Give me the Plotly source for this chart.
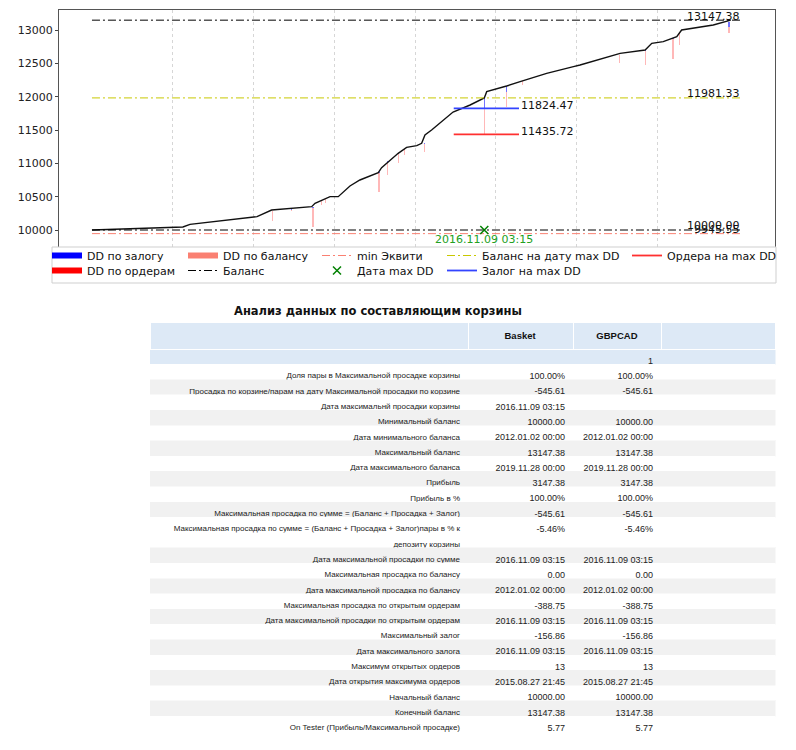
import plotly.graph_objects as go

# ---------------- chart data ----------------
bal_dates = ["2012-01-02", "2012-09-20", "2013-02-16", "2013-03-20", "2013-08-03", "2014-01-17",
             "2014-03-24", "2014-06-15", "2014-09-21", "2014-10-06", "2014-11-12", "2014-12-13",
             "2015-01-19", "2015-02-19", "2015-03-13", "2015-04-27", "2015-07-19", "2015-08-03",
             "2015-09-10", "2015-10-17", "2015-11-24", "2016-01-09", "2016-01-31", "2016-02-15",
             "2016-03-16", "2016-06-21", "2016-09-06", "2016-11-09 03:15", "2016-11-20", "2017-01-19",
             "2017-02-18", "2017-04-20", "2017-08-18", "2017-12-17", "2018-01-16", "2018-07-16",
             "2018-11-06", "2018-12-06", "2019-01-27", "2019-03-29", "2019-04-20", "2019-09-10",
             "2019-11-28"]
bal_values = [10000, 10022, 10045, 10085, 10135, 10200,
              10300, 10325, 10350, 10400, 10450, 10500,
              10500, 10600, 10660, 10750, 10860, 10935,
              11050, 11150, 11240, 11265, 11300, 11425,
              11500, 11770, 11875, 11981.33, 12075, 12125,
              12160, 12225, 12350, 12450, 12475, 12650,
              12700, 12800, 12825, 12900, 13000, 13075,
              13147.38]

dd_dates = ["2014-03-26", "2014-06-20", "2014-09-27", "2014-11-05", "2014-11-23", "2015-07-22",
            "2015-08-31", "2015-10-20", "2015-11-16", "2016-02-12", "2016-11-09 03:15", "2017-02-16",
            "2017-04-30", "2018-07-12", "2018-11-06", "2019-03-12", "2019-04-10", "2019-11-20"]
dd_top = [10290, 10325, 10350, 10440, 10470, 10870,
          11030, 11150, 11220, 11300, 11981.33, 12160,
          12240, 12630, 12695, 12880, 12960, 13120]
dd_zalog = [10, 30, 15, 10, 10, 20, 10, 10, 10, 10, 156.86, 90, 10, 10, 15, 20, 10, 70]
dd_orders = [140, 15, 290, 55, 60, 280, 190, 140, 90, 120, 388.75, 220, 50, 120, 210, 300, 170, 100]

line_start = "2012-01-02"
line_end = "2020-01-18"
max_balance = 13147.38
start_balance = 10000.00
min_equity = 9945.55
maxdd_date = "2016-11-09 03:15"
maxdd_label = "2016.11.09 03:15"
balance_at_dd = 11981.33
zalog_at_dd = 11824.47
orders_at_dd = 11435.72
dd_seg = ["2016-06-24", "2017-04-15"]

year_ticks = ["2013-01-01", "2014-01-01", "2015-01-01", "2016-01-01",
              "2017-01-01", "2018-01-01", "2019-01-01"]
y_ticks = [10000, 10500, 11000, 11500, 12000, 12500, 13000]

# ---------------- table data ----------------
row_labels = [
    "",
    "Доля пары в Максимальной просадке корзины",
    "Просадка по корзине/парам на дату Максимальной просадки по корзине",
    "Дата максимальнй просадки корзины",
    "Минимальный баланс",
    "Дата минимального баланса",
    "Максимальный баланс",
    "Дата максимального баланса",
    "Прибыль",
    "Прибыль в %",
    "Максимальная просадка по сумме = (Баланс + Просадка + Залог)",
    "Максимальная просадка по сумме = (Баланс + Просадка + Залог)пары в % к",
    "депозиту корзины",
    "Дата максимальной просадки по сумме",
    "Максимальная просадка по балансу",
    "Дата максимальной просадка по балансу",
    "Максимальная просадка по открытым ордерам",
    "Дата максимальной просадки по открытым ордерам",
    "Максимальный залог",
    "Дата максимального залога",
    "Максимум открытых ордеров",
    "Дата открытия максимума ордеров",
    "Начальный баланс",
    "Конечный баланс",
    "On Tester (Прибыль/Максимальной просадке)",
]
continuation_rows = {12}  # second text line of the previous row
basket_vals = ["", "100.00%", "-545.61", "2016.11.09 03:15", "10000.00", "2012.01.02 00:00",
               "13147.38", "2019.11.28 00:00", "3147.38", "100.00%", "-545.61", "-5.46%", "",
               "2016.11.09 03:15", "0.00", "2012.01.02 00:00", "-388.75", "2016.11.09 03:15",
               "-156.86", "2016.11.09 03:15", "13", "2015.08.27 21:45", "10000.00", "13147.38", "5.77"]
gbpcad_vals = ["1", "100.00%", "-545.61", "", "10000.00", "2012.01.02 00:00",
               "13147.38", "2019.11.28 00:00", "3147.38", "100.00%", "-545.61", "-5.46%", "",
               "2016.11.09 03:15", "0.00", "2012.01.02 00:00", "-388.75", "2016.11.09 03:15",
               "-156.86", "2016.11.09 03:15", "13", "2015.08.27 21:45", "10000.00", "13147.38", "5.77"]
header_vals = ["", "<b>Basket</b>", "<b>GBPCAD</b>", ""]

W, H = 796, 750
def px(x): return x / W
def py(y): return 1 - y / H
def nb(s): return s.replace(" ", "\u00a0")

FONT = "DejaVu Sans"
fig = go.Figure()

# drawdown spikes
DAY = 86400000
fig.add_trace(go.Bar(x=dd_dates, y=[-z for z in dd_zalog], base=dd_top, width=5 * DAY,
                     marker=dict(color="rgba(0,0,255,0.55)", line_width=0), showlegend=False,
                     hoverinfo="skip"))
fig.add_trace(go.Bar(x=dd_dates, y=[-o for o in dd_orders],
                     base=[t - z for t, z in zip(dd_top, dd_zalog)], width=5 * DAY,
                     marker=dict(color="rgba(255,0,0,0.28)", line_width=0), showlegend=False,
                     hoverinfo="skip"))

# balance curve
fig.add_trace(go.Scatter(x=bal_dates, y=bal_values, mode="lines", line=dict(color="#111", width=1.4),
                         showlegend=False))

DASHDOT = "8px,3px,2px,3px"
fig.add_trace(go.Scatter(x=[line_start, line_end, None, line_start, line_end],
                         y=[max_balance, max_balance, None, start_balance, start_balance],
                         mode="lines", line=dict(color="black", width=1, dash=DASHDOT),
                         name="Баланс", legend="legend4"))
fig.add_trace(go.Scatter(x=[line_start, line_end], y=[min_equity, min_equity], mode="lines",
                         line=dict(color="#fa8072", width=1, dash=DASHDOT),
                         name="min Эквити", legend="legend5"))
fig.add_trace(go.Scatter(x=[line_start, line_end], y=[balance_at_dd, balance_at_dd], mode="lines",
                         line=dict(color="#c8c800", width=1, dash=DASHDOT),
                         name="Баланс на дату max DD", legend="legend7"))
fig.add_trace(go.Scatter(x=dd_seg, y=[zalog_at_dd, zalog_at_dd], mode="lines",
                         line=dict(color="#3344ff", width=1.8),
                         name="Залог на max DD", legend="legend8"))
fig.add_trace(go.Scatter(x=dd_seg, y=[orders_at_dd, orders_at_dd], mode="lines",
                         line=dict(color="#ff3030", width=1.8),
                         name="Ордера на max DD", legend="legend9"))
fig.add_trace(go.Scatter(x=[maxdd_date], y=[start_balance], mode="markers",
                         marker=dict(symbol="x-thin", size=8, line=dict(color="green", width=1.5)),
                         name="Дата max DD", legend="legend6"))

# legend-only patches
for name, col, lg in [("DD по залогу", "blue", "legend"), ("DD по ордерам", "red", "legend2"),
                      ("DD по балансу", "#fa8072", "legend3")]:
    fig.add_trace(go.Scatter(x=[None], y=[None], mode="none", fill="toself", fillcolor=col,
                             name=name, legend=lg))

# value labels
ann = []
for val, txt in [(max_balance, "13147.38"), (balance_at_dd, "11981.33"),
                 (start_balance, "10000.00"), (min_equity, "9945.55")]:
    ann.append(dict(x=line_end, y=val, text=txt, xanchor="right", yanchor="middle", yshift=4,
                    showarrow=False, font=dict(family=FONT, size=11, color="#111")))
for val in [zalog_at_dd, orders_at_dd]:
    ann.append(dict(x=dd_seg[1], y=val, text=f"{val:.2f}", xanchor="left", yanchor="middle", yshift=3,
                    showarrow=False, font=dict(family=FONT, size=11, color="#111")))
ann.append(dict(x=maxdd_date, y=start_balance, text=maxdd_label, xanchor="center", yanchor="top",
                yshift=-1, showarrow=False, font=dict(family=FONT, size=11, color="#22a022")))
ann.append(dict(xref="paper", yref="paper", x=0.475, y=py(311), text="<b>Анализ данных по составляющим корзины</b>",
                xanchor="center", yanchor="middle", showarrow=False,
                font=dict(family=FONT, size=11.5, color="#111")))

# table
n = len(row_labels)
fills = []
band = 0
for i in range(n):
    if i == 0:
        fills.append("#dde9f6")
        continue
    if i not in continuation_rows:
        band += 1
    fills.append("#ffffff" if band % 2 == 1 else "#f1f1f1")

fig.add_trace(go.Table(
    domain=dict(x=[px(150), px(775)], y=[0, py(322)]),
    columnwidth=[318, 105, 88, 114],
    header=dict(values=header_vals, fill_color="#dde9f6", line=dict(color="white", width=1),
                align="center", height=26, font=dict(family="Liberation Sans", size=9.5, color="#111")),
    cells=dict(values=[[nb(s) for s in row_labels], [nb(s) for s in basket_vals],
                       [nb(s) for s in gbpcad_vals], [""] * n],
               fill_color=[fills] * 4, line=dict(color=[fills] * 4, width=0.5),
               align=["right", "right", "right", "right"], height=15.3,
               font=dict(family="Liberation Sans", size=[8, 9, 9, 9], color="#222")),
))

# legend frame
shapes = [dict(type="rect", xref="paper", yref="paper", x0=px(52), x1=px(776), y0=py(283), y1=py(247),
               fillcolor="white", line=dict(color="#cfcfcf", width=1), layer="above")]

leg_common = dict(bgcolor="rgba(0,0,0,0)", borderwidth=0, orientation="v", xanchor="left",
                  yanchor="top", font=dict(family=FONT, size=11, color="#111"),
                  tracegroupgap=0, itemwidth=30)
leg_pos = [(87, 0), (87, 1), (223, 0), (223, 1), (357, 0), (357, 1), (482, 0), (482, 1), (667, 0)]
legends = {}
for i, (tx, row) in enumerate(leg_pos):
    key = "legend" if i == 0 else f"legend{i + 1}"
    legends[key] = dict(x=px(tx - 40), y=py(241 + 15 * row), **leg_common)

fig.update_layout(
    width=W, height=H, margin=dict(l=0, r=0, t=0, b=0),
    paper_bgcolor="white", plot_bgcolor="white",
    barmode="overlay", bargap=0,
    xaxis=dict(domain=[px(59), px(775)], type="date", range=["2011-08-06", "2020-06-15"],
               tickvals=year_ticks, showticklabels=False, ticks="",
               showgrid=True, gridcolor="#d6d6d6", griddash="dot", gridwidth=1,
               showline=True, mirror=True, linecolor="#555", linewidth=1, zeroline=False),
    yaxis=dict(domain=[py(252), py(10)], range=[9670, 13300], tickvals=y_ticks, tickformat="d",
               showgrid=False, zeroline=False, ticks="outside", ticklen=3, tickcolor="#444",
               showline=True, mirror=True, linecolor="#555", linewidth=1,
               tickfont=dict(family=FONT, size=11, color="#222")),
    annotations=ann, shapes=shapes,
    **legends,
)

fig.write_html("out.html")
